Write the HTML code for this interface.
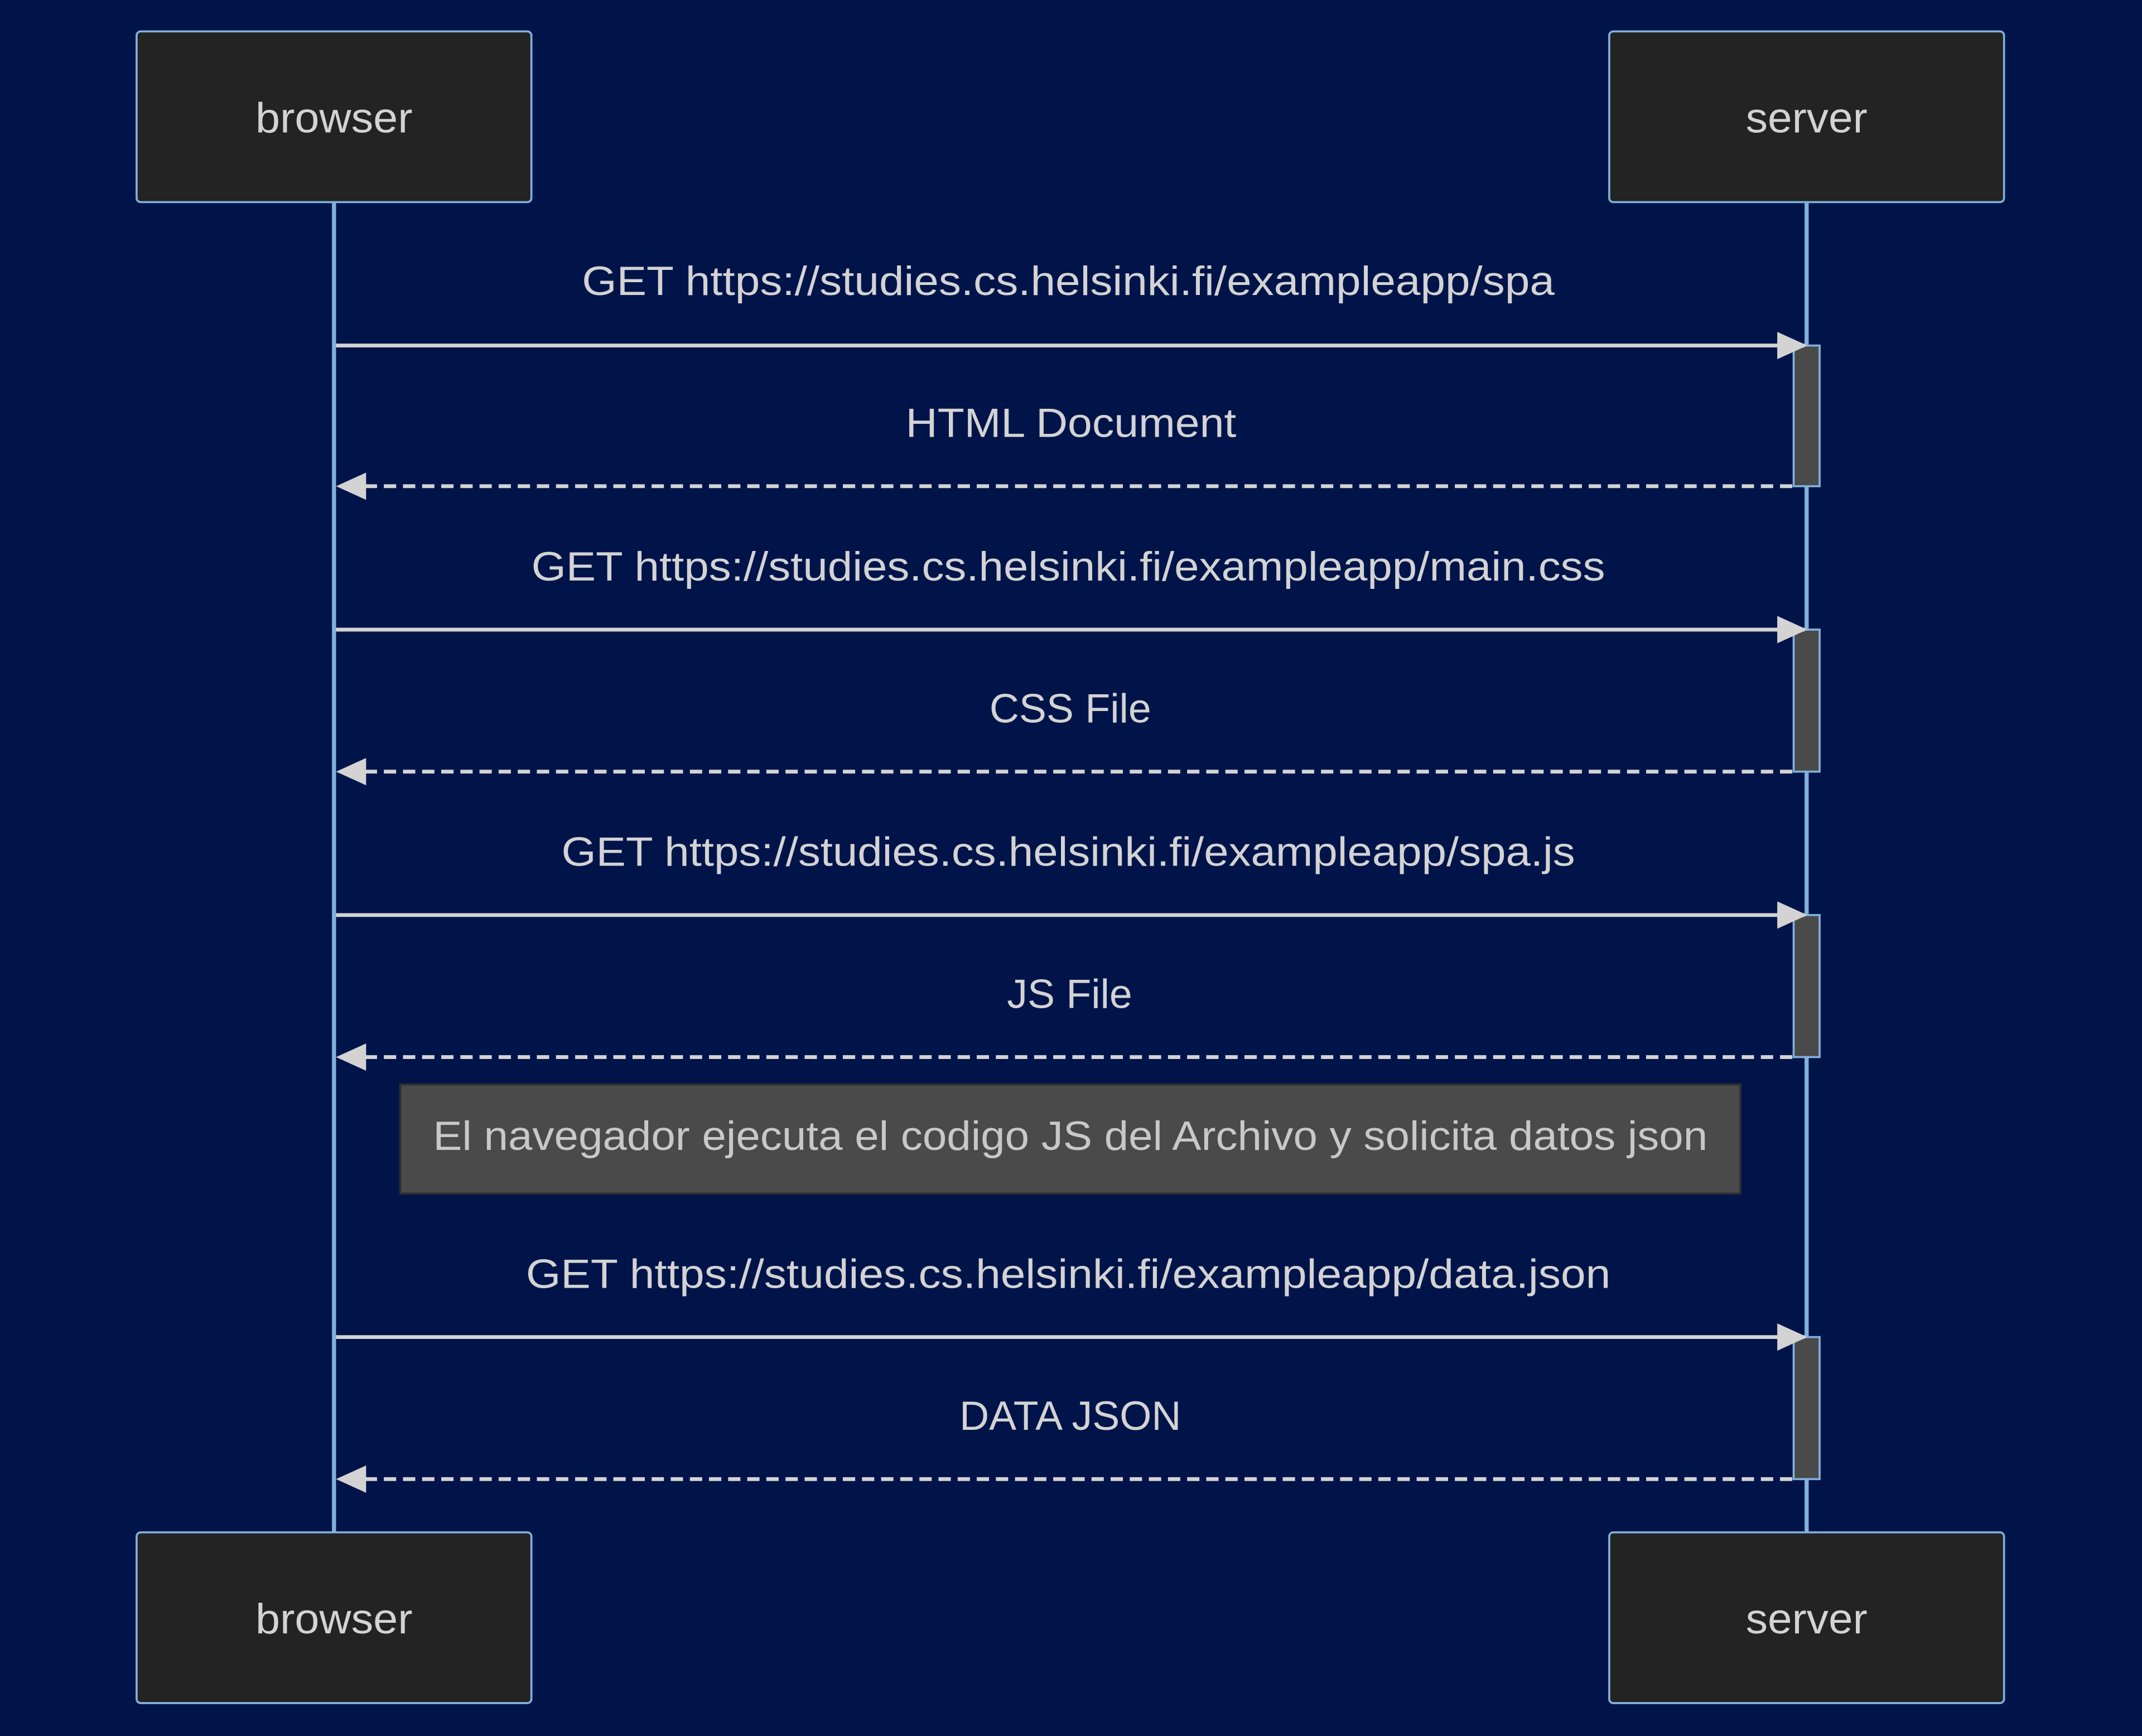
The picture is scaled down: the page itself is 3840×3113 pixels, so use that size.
<!DOCTYPE html>
<html><head><meta charset="utf-8"><style>
html,body{margin:0;padding:0;background:#00144a;}
svg{display:block;}
text{font-family:"Liberation Sans","DejaVu Sans",sans-serif;fill:#d3d3d3;text-anchor:middle;}
</style></head><body>
<svg width="3840" height="3113" viewBox="0 0 1568 1271.1" preserveAspectRatio="none" xmlns="http://www.w3.org/2000/svg">
<rect width="1568" height="1272" fill="#00144a"/>
<defs>
<marker id="ah2" viewBox="0 0 22 20" markerWidth="22" markerHeight="20" refX="20" refY="10" orient="auto" markerUnits="userSpaceOnUse">
<path d="M0,0 L22,10 L0,20 z" fill="#d3d3d3"/></marker>
</defs>
<line x1="244.5" y1="148" x2="244.5" y2="1122" stroke="#81b1db" stroke-width="3"/>
<line x1="1322.5" y1="148" x2="1322.5" y2="1122" stroke="#81b1db" stroke-width="3"/>
<g stroke="#81b1db" stroke-width="1.5" fill="#222322">
<rect x="100" y="23" width="289" height="125" rx="3"/>
<rect x="1178" y="23" width="289" height="125" rx="3"/>
<rect x="100" y="1122" width="289" height="125" rx="3"/>
<rect x="1178" y="1122" width="289" height="125" rx="3"/>
</g>
<g font-size="31">
<text x="244.5" y="97" textLength="115" lengthAdjust="spacingAndGlyphs">browser</text>
<text x="1322.5" y="97" textLength="89" lengthAdjust="spacingAndGlyphs">server</text>
<text x="244.5" y="1196" textLength="115" lengthAdjust="spacingAndGlyphs">browser</text>
<text x="1322.5" y="1196" textLength="89" lengthAdjust="spacingAndGlyphs">server</text>
</g>
<g fill="#494a49" stroke="#81b1db" stroke-width="1.5">
<rect x="1313" y="253" width="19" height="103"/>
<rect x="1313" y="461" width="19" height="104"/>
<rect x="1313" y="670" width="19" height="104"/>
<rect x="1313" y="979" width="19" height="104"/>
</g>
<g stroke="#d3d3d3" stroke-width="2.8" fill="none">
<line x1="246" y1="253" x2="1321" y2="253" marker-end="url(#ah2)"/>
<line x1="1312" y1="356" x2="248" y2="356" stroke-dasharray="9,5" marker-end="url(#ah2)"/>
<line x1="246" y1="461" x2="1321" y2="461" marker-end="url(#ah2)"/>
<line x1="1312" y1="565" x2="248" y2="565" stroke-dasharray="9,5" marker-end="url(#ah2)"/>
<line x1="246" y1="670" x2="1321" y2="670" marker-end="url(#ah2)"/>
<line x1="1312" y1="774" x2="248" y2="774" stroke-dasharray="9,5" marker-end="url(#ah2)"/>
<line x1="246" y1="979" x2="1321" y2="979" marker-end="url(#ah2)"/>
<line x1="1312" y1="1083" x2="248" y2="1083" stroke-dasharray="9,5" marker-end="url(#ah2)"/>
</g>
<g font-size="30">
<text x="782" y="216" textLength="712" lengthAdjust="spacingAndGlyphs">GET https://studies.cs.helsinki.fi/exampleapp/spa</text>
<text x="784" y="320" textLength="242" lengthAdjust="spacingAndGlyphs">HTML Document</text>
<text x="782" y="425" textLength="786" lengthAdjust="spacingAndGlyphs">GET https://studies.cs.helsinki.fi/exampleapp/main.css</text>
<text x="783.5" y="529">CSS File</text>
<text x="782" y="634" textLength="742" lengthAdjust="spacingAndGlyphs">GET https://studies.cs.helsinki.fi/exampleapp/spa.js</text>
<text x="783" y="738">JS File</text>
<text x="782" y="943" textLength="794" lengthAdjust="spacingAndGlyphs">GET https://studies.cs.helsinki.fi/exampleapp/data.json</text>
<text x="783.5" y="1047">DATA JSON</text>
</g>
<rect x="293" y="794" width="981" height="80" fill="#494a49" stroke="#2e2e2e" stroke-width="1.5"/>
<text x="783.5" y="842" font-size="30" textLength="933" lengthAdjust="spacingAndGlyphs" style="fill:#c8c8c8">El navegador ejecuta el codigo JS del Archivo y solicita datos json</text>
</svg>
</body></html>
